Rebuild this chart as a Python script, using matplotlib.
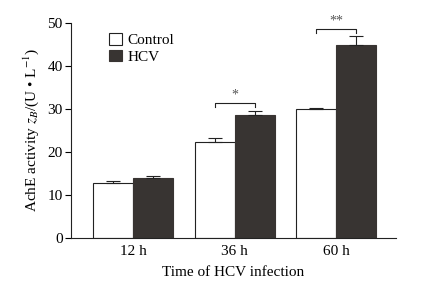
import matplotlib
matplotlib.use("Agg")
import matplotlib.pyplot as plt
import numpy as np

categories = ["12 h", "36 h", "60 h"]
control = [12.7, 22.3, 30.0]
control_err = [0.5, 0.8, 0.2]
hcv = [14.0, 28.6, 44.7]
hcv_err = [0.3, 0.9, 2.1]
sig_labels = ["", "*", "**"]
sig_heights = [None, 31.3, 48.5]

plt.rcParams['font.family'] = ['Liberation Serif', 'DejaVu Serif']
plt.rcParams['mathtext.fontset'] = 'stix'

fig = plt.figure(figsize=(4.31, 2.86), dpi=100)
ax = fig.add_axes([0.165, 0.168, 0.754, 0.753])

x = np.arange(len(categories))
w = 0.395
gray = '#383432'
ax.bar(x - w/2, control, w, color='white', edgecolor='#222222', linewidth=0.8,
       yerr=[np.zeros(3), control_err], error_kw=dict(ecolor='#222222', elinewidth=0.8, capsize=5, capthick=0.8),
       label='Control')
ax.bar(x + w/2, hcv, w, color=gray, edgecolor=gray, linewidth=0.8,
       yerr=[np.zeros(3), hcv_err], error_kw=dict(ecolor='#222222', elinewidth=0.8, capsize=5, capthick=0.8),
       label='HCV')

for i, (lab, h) in enumerate(zip(sig_labels, sig_heights)):
    if h is None:
        continue
    x0, x1 = x[i] - w/2, x[i] + w/2
    ax.plot([x0, x0, x1, x1], [h - 1.0, h, h, h - 1.0], color='#222222', lw=0.8)
    ax.text(x[i], h + 0.3, lab, ha='center', va='bottom', fontsize=10, color='#555555')

ax.set_xlim(-0.61, 2.59)
ax.set_ylim(0, 50)
ax.set_yticks([0, 10, 20, 30, 40, 50])
ax.set_xticks(x)
ax.set_xticklabels(categories)
ax.tick_params(axis='x', length=0, labelsize=11, pad=5)
ax.tick_params(axis='y', direction='out', length=4, width=0.8, labelsize=11, pad=2)
for s in ['top', 'right']:
    ax.spines[s].set_visible(False)
for s in ['left', 'bottom']:
    ax.spines[s].set_linewidth(0.8)
    ax.spines[s].set_color('#222222')

ax.set_ylabel(r"AchE activity $z_B$/(U • L$^{-1}$)", fontsize=11, labelpad=5)
ax.set_xlabel("Time of HCV infection", fontsize=11, labelpad=6)

ax.legend(loc='upper left', bbox_to_anchor=(0.085, 1.0), frameon=False, fontsize=11,
          handlelength=0.8, handleheight=0.8, handletextpad=0.4, labelspacing=0.15, borderaxespad=0.3)

fig.savefig("out.png", dpi=100)
